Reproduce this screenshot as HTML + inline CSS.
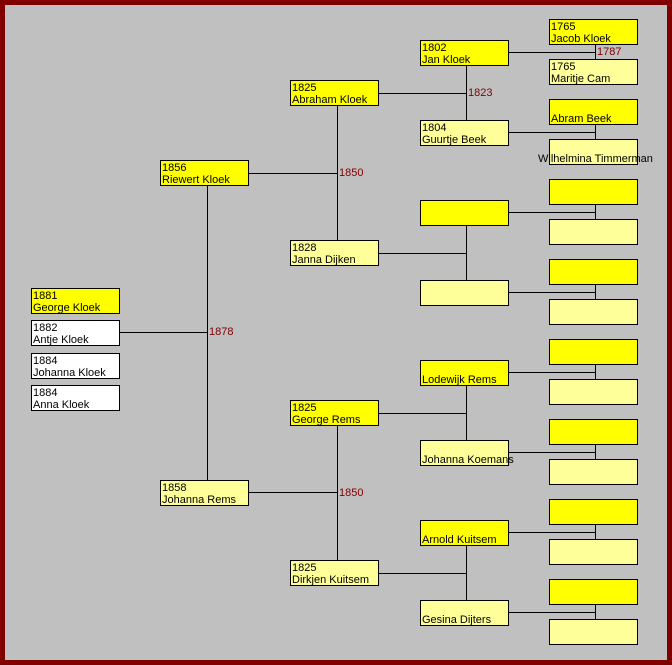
<!DOCTYPE html>
<html><head><meta charset="utf-8"><style>
html,body{margin:0;padding:0}
body{width:672px;height:665px;position:relative;background:#800000;overflow:hidden;font-family:"Liberation Sans",Arial,sans-serif;font-size:11px}
#bg{position:absolute;left:5px;top:5px;width:662px;height:655px;background:#c0c0c0}
.b{position:absolute;box-sizing:border-box;width:89px;height:26px;border:1px solid #000;padding:1px 0 0 1px;line-height:12px;color:#000;white-space:nowrap}
.m{background:#ffff00}.f{background:#ffff99}.w{background:#fff}
.h{position:absolute;height:1px;background:#000}
.v{position:absolute;width:1px;background:#000}
.y{position:absolute;color:#800000;font-size:11px;line-height:12px}
</style></head><body><div id="bg"></div>
<div class="h" style="left:119px;top:332px;width:88px"></div>
<div class="v" style="left:207px;top:186px;height:294px"></div>
<div class="h" style="left:249px;top:173px;width:88px"></div>
<div class="h" style="left:249px;top:492px;width:88px"></div>
<div class="v" style="left:337px;top:106px;height:134px"></div>
<div class="v" style="left:337px;top:426px;height:134px"></div>
<div class="h" style="left:379px;top:93px;width:87px"></div>
<div class="h" style="left:379px;top:253px;width:87px"></div>
<div class="h" style="left:379px;top:413px;width:87px"></div>
<div class="h" style="left:379px;top:573px;width:87px"></div>
<div class="v" style="left:466px;top:66px;height:54px"></div>
<div class="v" style="left:466px;top:226px;height:54px"></div>
<div class="v" style="left:466px;top:386px;height:54px"></div>
<div class="v" style="left:466px;top:546px;height:54px"></div>
<div class="h" style="left:508px;top:52px;width:87px"></div>
<div class="h" style="left:508px;top:132px;width:87px"></div>
<div class="h" style="left:508px;top:212px;width:87px"></div>
<div class="h" style="left:508px;top:292px;width:87px"></div>
<div class="h" style="left:508px;top:372px;width:87px"></div>
<div class="h" style="left:508px;top:452px;width:87px"></div>
<div class="h" style="left:508px;top:532px;width:87px"></div>
<div class="h" style="left:508px;top:612px;width:87px"></div>
<div class="v" style="left:595px;top:45px;height:14px"></div>
<div class="v" style="left:595px;top:125px;height:14px"></div>
<div class="v" style="left:595px;top:205px;height:14px"></div>
<div class="v" style="left:595px;top:285px;height:14px"></div>
<div class="v" style="left:595px;top:365px;height:14px"></div>
<div class="v" style="left:595px;top:445px;height:14px"></div>
<div class="v" style="left:595px;top:525px;height:14px"></div>
<div class="v" style="left:595px;top:605px;height:14px"></div>
<div class="y" style="left:209px;top:326px">1878</div>
<div class="y" style="left:339px;top:167px">1850</div>
<div class="y" style="left:339px;top:487px">1850</div>
<div class="y" style="left:468px;top:87px">1823</div>
<div class="y" style="left:597px;top:46px">1787</div>
<div class="b m" style="left:31px;top:288px">1881<br>George Kloek</div>
<div class="b w" style="left:31px;top:320px">1882<br>Antje Kloek</div>
<div class="b w" style="left:31px;top:353px">1884<br>Johanna Kloek</div>
<div class="b w" style="left:31px;top:385px">1884<br>Anna Kloek</div>
<div class="b m" style="left:160px;top:160px">1856<br>Riewert Kloek</div>
<div class="b f" style="left:160px;top:480px">1858<br>Johanna Rems</div>
<div class="b m" style="left:290px;top:80px">1825<br>Abraham Kloek</div>
<div class="b f" style="left:290px;top:240px">1828<br>Janna Dijken</div>
<div class="b m" style="left:290px;top:400px">1825<br>George Rems</div>
<div class="b f" style="left:290px;top:560px">1825<br>Dirkjen Kuitsem</div>
<div class="b m" style="left:420px;top:40px">1802<br>Jan Kloek</div>
<div class="b f" style="left:420px;top:120px">1804<br>Guurtje Beek</div>
<div class="b m" style="left:420px;top:200px"></div>
<div class="b f" style="left:420px;top:280px"></div>
<div class="b m" style="left:420px;top:360px"><br>Lodewijk Rems</div>
<div class="b f" style="left:420px;top:440px"><br>Johanna Koemans</div>
<div class="b m" style="left:420px;top:520px"><br>Arnold Kuitsem</div>
<div class="b f" style="left:420px;top:600px"><br>Gesina Dijters</div>
<div class="b m" style="left:549px;top:19px">1765<br>Jacob Kloek</div>
<div class="b f" style="left:549px;top:59px">1765<br>Maritje Cam</div>
<div class="b m" style="left:549px;top:99px"><br>Abram Beek</div>
<div class="b f" style="left:549px;top:139px;overflow:visible"><div style="position:absolute;left:-12px;top:13px">Wilhelmina Timmerman</div></div>
<div class="b m" style="left:549px;top:179px"></div>
<div class="b f" style="left:549px;top:219px"></div>
<div class="b m" style="left:549px;top:259px"></div>
<div class="b f" style="left:549px;top:299px"></div>
<div class="b m" style="left:549px;top:339px"></div>
<div class="b f" style="left:549px;top:379px"></div>
<div class="b m" style="left:549px;top:419px"></div>
<div class="b f" style="left:549px;top:459px"></div>
<div class="b m" style="left:549px;top:499px"></div>
<div class="b f" style="left:549px;top:539px"></div>
<div class="b m" style="left:549px;top:579px"></div>
<div class="b f" style="left:549px;top:619px"></div>
</body></html>
